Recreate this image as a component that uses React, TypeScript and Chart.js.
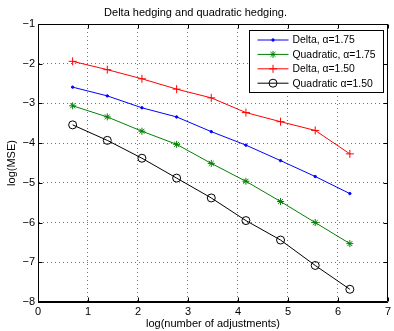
import React, { useEffect, useRef } from "react";
import { Chart, registerables } from "chart.js";
import { drawPoint } from "chart.js/helpers";

Chart.register(...registerables);

const xValues = [0.693, 1.386, 2.079, 2.773, 3.466, 4.159, 4.852, 5.545, 6.238];
const deltaA175 = [-2.59, -2.81, -3.11, -3.34, -3.71, -4.05, -4.44, -4.84, -5.27];
const quadA175 = [-3.06, -3.34, -3.70, -4.03, -4.51, -4.96, -5.47, -6.00, -6.53];
const deltaA150 = [-1.94, -2.15, -2.38, -2.64, -2.86, -3.23, -3.46, -3.68, -4.27];
const quadA150 = [-3.54, -3.93, -4.38, -4.88, -5.38, -5.95, -6.44, -7.08, -7.68];

const seriesLabels = ["Delta, \u03b1=1.75", "Quadratic, \u03b1=1.75", "Delta, \u03b1=1.50", "Quadratic \u03b1=1.50"];
const xTicks = [0, 1, 2, 3, 4, 5, 6, 7];
const yTicks = [-8, -7, -6, -5, -4, -3, -2, -1];
const titleText = "Delta hedging and quadratic hedging.";
const xTitle = "log(number of adjustments)";
const yTitle = "log(MSE)";

const FONT = "'Liberation Sans', Arial, Helvetica, sans-serif";

const toPts = (ys: number[]) => ys.map((y, i) => ({ x: xValues[i], y }));

const framePlugin = {
  id: "matlabFrame",
  afterDatasetsDraw(chart: any) {
    const { ctx, chartArea } = chart;
    const { left, right, top, bottom } = chartArea;
    const xs = chart.scales.x;
    const ys = chart.scales.y;
    ctx.save();
    ctx.strokeStyle = "#000";
    ctx.lineWidth = 1;
    const L = Math.round(left) + 0.5;
    const R = Math.round(right) - 0.5;
    const T = Math.round(top) + 0.5;
    const B = Math.round(bottom) - 0.5;
    ctx.beginPath();
    ctx.rect(L, T, R - L, B - T);
    ctx.stroke();
    // inner ticks
    ctx.beginPath();
    xTicks.forEach((v) => {
      const px = Math.round(xs.getPixelForValue(v)) + 0.5;
      ctx.moveTo(px, B);
      ctx.lineTo(px, B - 4);
      ctx.moveTo(px, T);
      ctx.lineTo(px, T + 4);
    });
    yTicks.forEach((v) => {
      const py = Math.round(ys.getPixelForValue(v)) + 0.5;
      ctx.moveTo(L, py);
      ctx.lineTo(L + 4, py);
      ctx.moveTo(R, py);
      ctx.lineTo(R - 4, py);
    });
    ctx.stroke();

    // legend
    const bx = Math.round(right) - 4.5;
    const boxW = 134;
    const boxH = 62;
    const x0 = bx - boxW;
    const y0 = Math.round(top) + 6.5;
    ctx.fillStyle = "#fff";
    ctx.fillRect(x0, y0, boxW, boxH);
    ctx.strokeStyle = "#000";
    ctx.strokeRect(x0, y0, boxW, boxH);
    chart.data.datasets.forEach((ds: any, i: number) => {
      const cy = y0 + 9.5 + i * 14.4;
      const lx0 = x0 + 8;
      const lx1 = x0 + 39;
      ctx.strokeStyle = ds.borderColor;
      ctx.lineWidth = 1;
      ctx.beginPath();
      ctx.moveTo(lx0, cy);
      ctx.lineTo(lx1, cy);
      ctx.stroke();
      ctx.fillStyle = ds.pointBackgroundColor;
      ctx.strokeStyle = ds.pointBorderColor;
      ctx.lineWidth = ds.pointBorderWidth;
      drawPoint(ctx, { pointStyle: ds.pointStyle, radius: ds.pointRadius, rotation: 0, borderWidth: ds.pointBorderWidth }, (lx0 + lx1) / 2, cy);
      ctx.fillStyle = "#000";
      ctx.font = `10.4px ${FONT}`;
      ctx.textAlign = "left";
      ctx.textBaseline = "middle";
      ctx.fillText(ds.label, x0 + 43, cy + 0.5);
    });
    ctx.restore();
  },
};

const minus = (v: number) => (v < 0 ? "\u2212" + Math.abs(v) : String(v));

export default function App() {
  const ref = useRef<HTMLCanvasElement | null>(null);
  useEffect(() => {
    if (!ref.current) return;
    const mk = (label: string, data: number[], color: string, style: string, radius: number, fill: string) => ({
      label,
      data: toPts(data),
      borderColor: color,
      backgroundColor: color,
      borderWidth: 1,
      pointStyle: style,
      pointRadius: radius,
      pointHoverRadius: radius,
      pointBorderColor: color,
      pointBackgroundColor: fill,
      pointBorderWidth: 1,
      tension: 0,
      fill: false,
    });
    const chart = new Chart(ref.current, {
      type: "line",
      data: {
        datasets: [
          mk(seriesLabels[0], deltaA175, "#0000ff", "circle", 1.2, "#0000ff"),
          mk(seriesLabels[1], quadA175, "#008000", "star", 3.5, "#008000"),
          mk(seriesLabels[2], deltaA150, "#ff0000", "cross", 4, "#ff0000"),
          mk(seriesLabels[3], quadA150, "#000000", "circle", 4, "rgba(0,0,0,0)"),
        ],
      } as any,
      options: {
        responsive: false,
        maintainAspectRatio: false,
        animation: false,
        devicePixelRatio: 1,
        layout: { padding: { left: 0, right: 3, top: 0, bottom: 0 } },
        plugins: {
          legend: { display: false },
          tooltip: { enabled: false },
          title: {
            display: true,
            text: titleText,
            color: "#000",
            font: { family: FONT, size: 11, weight: "normal" },
            padding: { top: 6.4, bottom: 4.4 },
          },
        },
        scales: {
          x: {
            type: "linear",
            min: 0,
            max: 7,
            afterFit: (s: any) => {
              s.height = 29;
            },
            afterBuildTicks: (s: any) => {
              s.ticks = xTicks.map((v) => ({ value: v }));
            },
            ticks: {
              callback: (v: any) => minus(Number(v)),
              color: "#000",
              font: { family: FONT, size: 11 },
              padding: 3,
              maxRotation: 0,
              autoSkip: false,
            },
            grid: { color: "rgba(0,0,0,0.55)", lineWidth: 1, drawTicks: false, borderDash: [1, 3] },
            border: { display: true, color: "#000", width: 1, dash: [1, 3] },
            title: {
              display: true,
              text: xTitle,
              color: "#000",
              font: { family: FONT, size: 11 },
              padding: { top: 0, bottom: 0 },
            },
          },
          y: {
            type: "linear",
            min: -8,
            max: -1,
            afterFit: (s: any) => {
              s.width = 38;
            },
            afterBuildTicks: (s: any) => {
              s.ticks = yTicks.map((v) => ({ value: v }));
            },
            ticks: {
              callback: (v: any) => minus(Number(v)),
              color: "#000",
              font: { family: FONT, size: 11 },
              padding: 3,
              autoSkip: false,
            },
            grid: { color: "rgba(0,0,0,0.55)", lineWidth: 1, drawTicks: false, borderDash: [1, 3] },
            border: { display: true, color: "#000", width: 1, dash: [1, 3] },
            title: {
              display: true,
              text: yTitle,
              color: "#000",
              font: { family: FONT, size: 11 },
              padding: { top: 5, bottom: 0 },
            },
          },
        },
      } as any,
      plugins: [framePlugin],
    });
    return () => chart.destroy();
  }, []);
  return (
    <div style={{ position: "fixed", left: 0, top: 0, width: 394, height: 331, background: "#fff" }}>
      <canvas ref={ref} width={394} height={331} style={{ display: "block", width: 394, height: 331 }} />
    </div>
  );
}
